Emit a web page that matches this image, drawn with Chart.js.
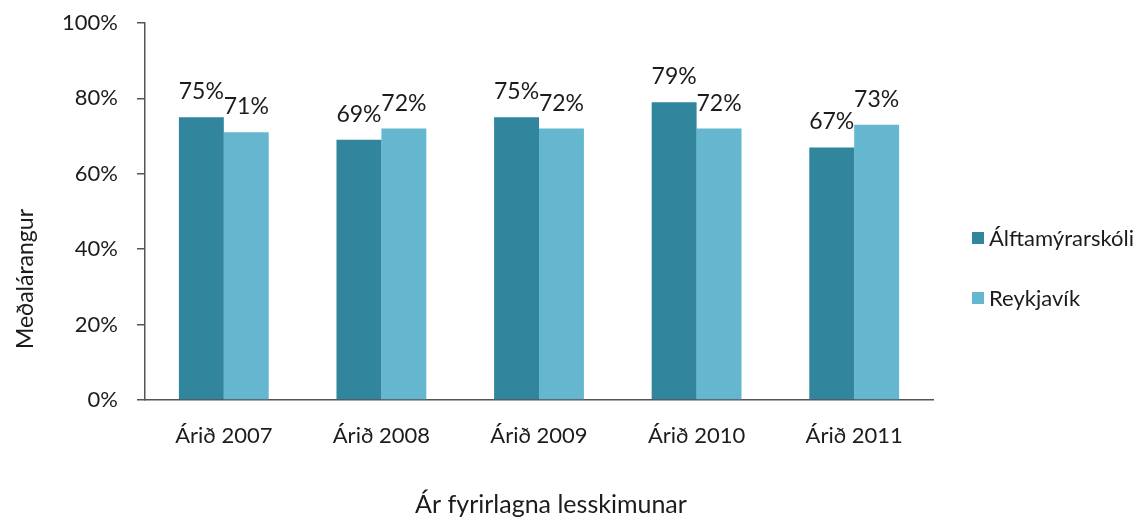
<!DOCTYPE html>
<html>
<head>
<meta charset="utf-8">
<script src="https://cdn.jsdelivr.net/npm/chart.js@4/dist/chart.umd.min.js"></script>
<style>
  html, body { margin: 0; padding: 0; background: #fff; }
  #wrap { width: 1142px; height: 517px; }
</style>
</head>
<body>
<div id="wrap"><canvas id="c" width="1142" height="517"></canvas></div>
<script>
// chart data
const years = ['Árið 2007', 'Árið 2008', 'Árið 2009', 'Árið 2010', 'Árið 2011'];
const alftamyri = [75, 69, 75, 79, 67];
const reykjavik = [71, 72, 72, 72, 73];
const seriesNames = ['Álftamýrarskóli', 'Reykjavík'];
const yTicks = [0, 20, 40, 60, 80, 100];
const yTitle = 'Meðalárangur';
const xTitle = 'Ár fyrirlagna lesskimunar';

const dark = '#31859c';
const light = '#65b6cf';
const txt = '#1c1c1c';
const fontFam = 'Lato, "Open Sans", sans-serif';

// values over the bars, titles and the legend
const extras = {
  id: 'extras',
  afterDatasetsDraw(chart) {
    const ctx = chart.ctx;
    ctx.save();
    ctx.fillStyle = txt;
    ctx.font = '23px ' + fontFam;
    ctx.textAlign = 'center';
    ctx.textBaseline = 'alphabetic';
    chart.data.datasets.forEach((ds, i) => {
      chart.getDatasetMeta(i).data.forEach((bar, j) => {
        ctx.fillText(ds.data[j] + '%', bar.x, bar.y - 18);
      });
    });

    // axis titles
    ctx.font = '25px ' + fontFam;
    ctx.fillText(xTitle, 551, 513);
    ctx.save();
    ctx.translate(33, 279);
    ctx.rotate(-Math.PI / 2);
    ctx.font = '23px ' + fontFam;
    ctx.fillText(yTitle, 0, 0);
    ctx.restore();

    // legend
    ctx.font = '22px ' + fontFam;
    ctx.textAlign = 'left';
    ctx.textBaseline = 'middle';
    seriesNames.forEach((name, i) => {
      const y = 238 + i * 60;
      ctx.fillStyle = chart.data.datasets[i].backgroundColor;
      ctx.fillRect(972, y - 6, 12, 12);
      ctx.fillStyle = txt;
      ctx.fillText(name, 989, y + 1);
    });
    ctx.restore();
  }
};

new Chart(document.getElementById('c'), {
  type: 'bar',
  data: {
    labels: years,
    datasets: [
      { label: seriesNames[0], data: alftamyri, backgroundColor: dark },
      { label: seriesNames[1], data: reykjavik, backgroundColor: light }
    ]
  },
  options: {
    responsive: false,
    animation: false,
    layout: { padding: { top: 23, right: 209, left: 0, bottom: 0 } },
    datasets: { bar: { categoryPercentage: 0.57, barPercentage: 1 } },
    plugins: {
      legend: { display: false },
      tooltip: { enabled: false }
    },
    scales: {
      x: {
        grid: { display: false },
        border: { display: true, color: '#555', width: 1.5 },
        ticks: { color: txt, font: { size: 22, family: fontFam }, padding: 15 },
        afterFit(s) { s.height = 117; s.paddingLeft = 0; s.paddingRight = 0; }
      },
      y: {
        min: 0,
        max: 100,
        afterBuildTicks(s) { s.ticks = yTicks.map(v => ({ value: v })); },
        grid: { drawOnChartArea: false, drawTicks: true, tickLength: 8, color: '#555', lineWidth: 1.5 },
        border: { display: true, color: '#555', width: 1.5 },
        ticks: {
          color: txt,
          font: { size: 22, family: fontFam },
          padding: 19,
          callback: v => v + '%'
        },
        afterFit(s) { s.width = 145; s.paddingTop = 0; s.paddingBottom = 0; }
      }
    }
  },
  plugins: [extras]
});
</script>
</body>
</html>
